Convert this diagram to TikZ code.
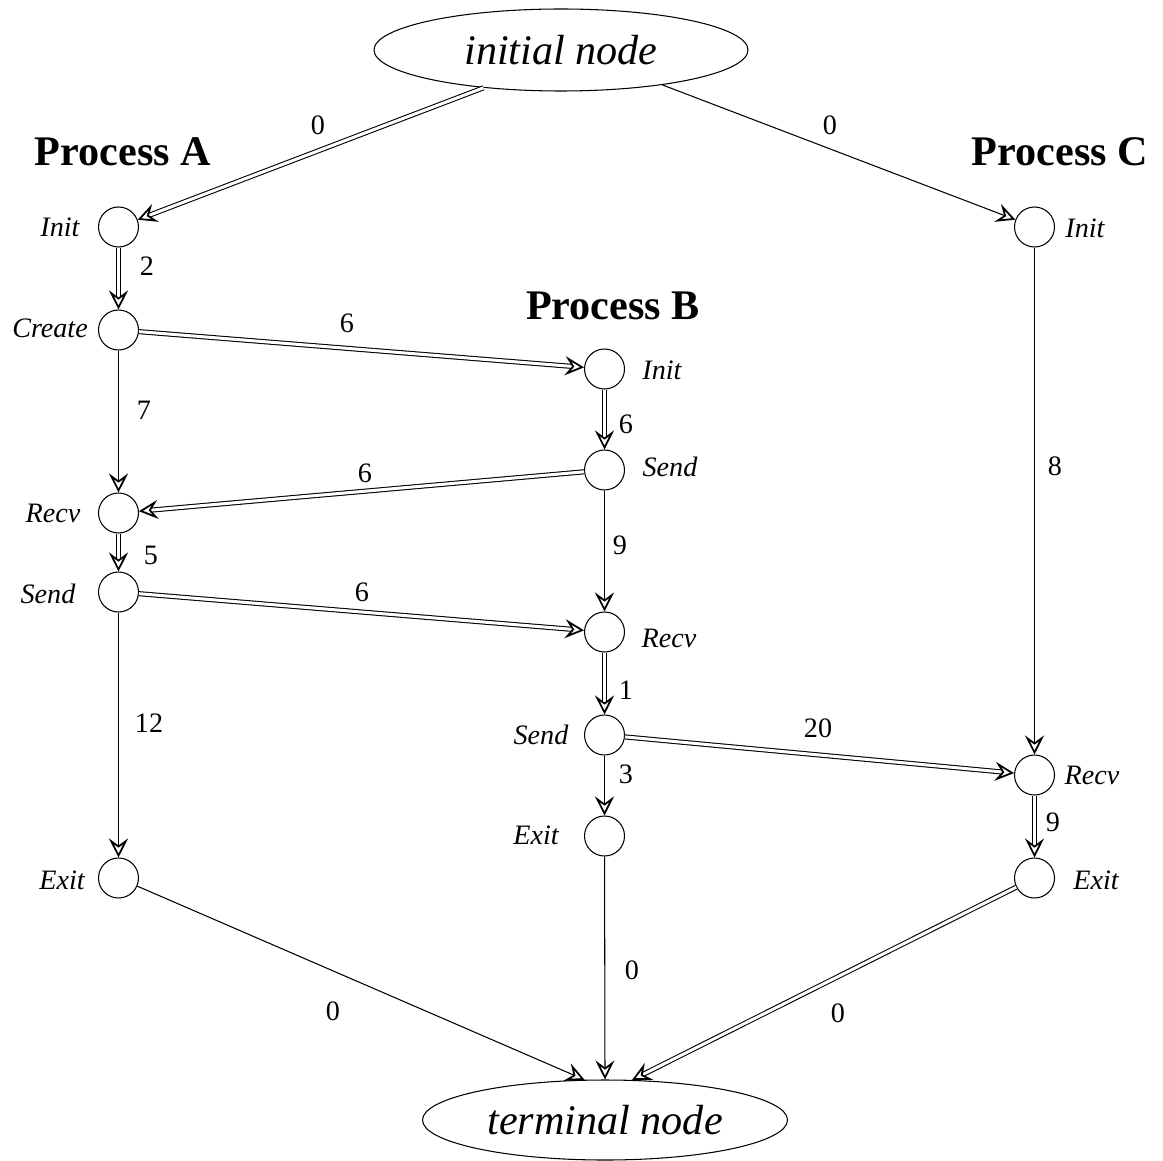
\documentclass[tikz,border=0pt]{standalone}
\usepackage{fontspec}
\setmainfont{Liberation Serif}
\usetikzlibrary{arrows.meta,shapes.geometric}
\tikzset{
  state/.style  = {circle, draw, line width=0.3pt, minimum size=4mm, inner sep=0pt},
  term/.style   = {ellipse, draw, line width=0.3pt, inner sep=0pt,
                   font=\fontsize{12}{14}\selectfont\itshape},
  title/.style  = {inner sep=0pt, font=\fontsize{12}{14}\selectfont\bfseries},
  lbl/.style    = {inner sep=0pt, font=\fontsize{8}{10}\selectfont\itshape},
  wt/.style     = {inner sep=0pt, font=\fontsize{8}{10}\selectfont},
  edge/.style   = {-{Stealth[open,length=1.9mm,width=1.9mm,inset=0.7mm,line width=0.5pt]},
                   line width=0.3pt},
  dbl/.style    = {edge, double, double distance=0.3mm},
}
\begin{document}
\begin{tikzpicture}[x=0.1mm,y=-0.1mm]
  \useasboundingbox (0,0) rectangle (1163,1160);
  % start and end
  \node[term, minimum width=37.4mm, minimum height=8.2mm] (init) at (561,50) {initial node};
  \node[term, minimum width=36.5mm, minimum height=8mm] (fin) at (605,1120) {terminal node};
  % process titles
  \node[title] (tA) at (123,152) {Process A};
  \node[title] (tB) at (613,306) {Process B};
  \node[title] (tC) at (1060,152) {Process C};
  % process A
  \node[state] (initA)   at (118.5,227) {};
  \node[state] (createA) at (118.5,330) {};
  \node[state] (recvA)   at (118.5,513) {};
  \node[state] (sendA)   at (118.5,592) {};
  \node[state] (exitA)   at (118.5,878) {};
  % process B
  \node[state] (initB)  at (604.5,369) {};
  \node[state] (sendB)  at (604.5,470) {};
  \node[state] (recvB)  at (604.5,632) {};
  \node[state] (sendBb) at (604.5,735) {};
  \node[state] (exitB)  at (604.5,836) {};
  % process C
  \node[state] (initC) at (1034.5,227) {};
  \node[state] (recvC) at (1034.5,775) {};
  \node[state] (exitC) at (1034.5,878) {};
  % state names
  \node[lbl] (initA-l)   at (60,227)   {Init};
  \node[lbl] (createA-l) at (50,328)   {Create};
  \node[lbl] (recvA-l)   at (53,513)   {Recv};
  \node[lbl] (sendA-l)   at (48,594)   {Send};
  \node[lbl] (exitA-l)   at (62,880)   {Exit};
  \node[lbl] (initB-l)   at (662,370)  {Init};
  \node[lbl] (sendB-l)   at (670,467)  {Send};
  \node[lbl] (recvB-l)   at (669,638)  {Recv};
  \node[lbl] (sendBb-l)  at (541,735)  {Send};
  \node[lbl] (exitB-l)   at (536,835)  {Exit};
  \node[lbl] (initC-l)   at (1085,228) {Init};
  \node[lbl] (recvC-l)   at (1092,775) {Recv};
  \node[lbl] (exitC-l)   at (1096,880) {Exit};
  % edges
  \draw[dbl]  (init.206) -- (initA);
  \draw[edge] (init.341) -- (initC);
  \draw[dbl]  (initA) -- (createA);
  \draw[dbl]  (createA) -- (initB);
  \draw[edge] (createA) -- (recvA);
  \draw[dbl]  (initB) -- (sendB);
  \draw[dbl]  (sendB) -- (recvA);
  \draw[dbl]  (recvA) -- (sendA);
  \draw[dbl]  (sendA) -- (recvB);
  \draw[edge] (sendB) -- (recvB);
  \draw[edge] (sendA) -- (exitA);
  \draw[dbl]  (recvB) -- (sendBb);
  \draw[dbl]  (sendBb) -- (recvC);
  \draw[edge] (sendBb) -- (exitB);
  \draw[edge] (initC) -- (recvC);
  \draw[dbl]  (recvC) -- (exitC);
  \draw[edge] (exitA) -- (fin.117);
  \draw[edge] (exitB) -- (fin.90);
  \draw[dbl]  (exitC) -- (fin.56);
  % weights
  \node[wt] (w1)  at (318,125)  {0};
  \node[wt] (w2)  at (830,125)  {0};
  \node[wt] (w3)  at (147,266)  {2};
  \node[wt] (w4)  at (347,323)  {6};
  \node[wt] (w5)  at (144,410)  {7};
  \node[wt] (w6)  at (626,424)  {6};
  \node[wt] (w7)  at (365,473)  {6};
  \node[wt] (w8)  at (151,555)  {5};
  \node[wt] (w9)  at (362,592)  {6};
  \node[wt] (w10) at (620,545)  {9};
  \node[wt] (w11) at (149,723)  {12};
  \node[wt] (w12) at (626,690)  {1};
  \node[wt] (w13) at (818,728)  {20};
  \node[wt] (w14) at (626,774)  {3};
  \node[wt] (w15) at (1055,466) {8};
  \node[wt] (w16) at (1053,822) {9};
  \node[wt] (w17) at (333,1011) {0};
  \node[wt] (w18) at (632,970)  {0};
  \node[wt] (w19) at (838,1013) {0};
\end{tikzpicture}
\end{document}
